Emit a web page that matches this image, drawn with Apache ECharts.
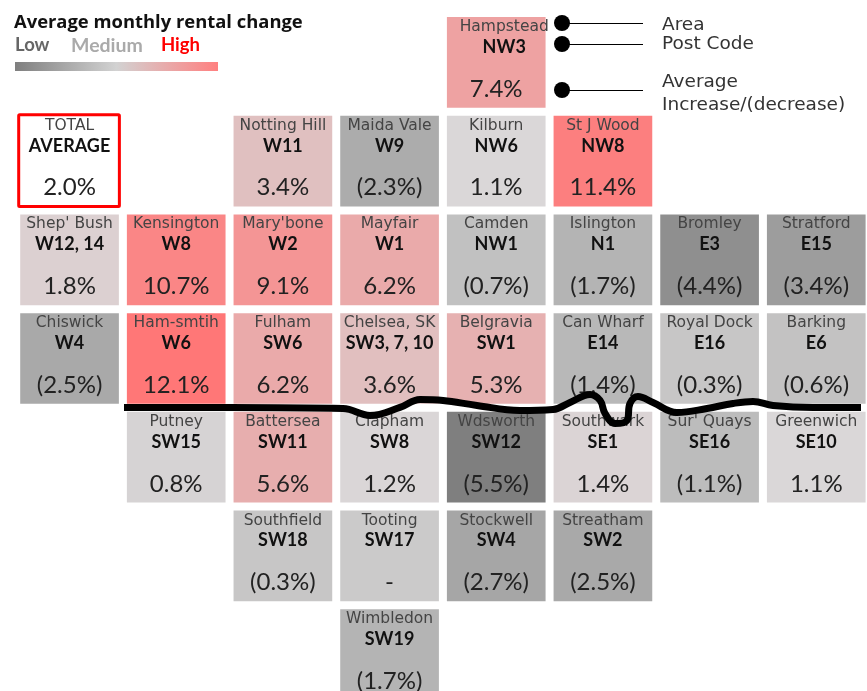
<!DOCTYPE html>
<html>
<head>
<meta charset="utf-8">
<title>Average monthly rental change</title>
<style>
    html, body { margin: 0; padding: 0; background: #fff; overflow: hidden; }
    #chart { width: 867px; height: 691px; }
</style>
<script src="https://cdn.jsdelivr.net/npm/echarts@6/dist/echarts.min.js"></script>
</head>
<body>
<div id="chart"></div>
<script>
// tile map of London postcodes
const areas = ['Hampstead', 'Notting Hill', 'Maida Vale', 'Kilburn', 'St J Wood',
    "Shep' Bush", 'Kensington', "Mary'bone", 'Mayfair', 'Camden', 'Islington', 'Bromley', 'Stratford',
    'Chiswick', 'Ham-smtih', 'Fulham', 'Chelsea, SK', 'Belgravia', 'Can Wharf', 'Royal Dock', 'Barking',
    'Putney', 'Battersea', 'Clapham', 'Wdsworth', 'Southwark', "Sur' Quays", 'Greenwich',
    'Southfield', 'Tooting', 'Stockwell', 'Streatham',
    'Wimbledon'];
const postCodes = ['NW3', 'W11', 'W9', 'NW6', 'NW8',
    'W12, 14', 'W8', 'W2', 'W1', 'NW1', 'N1', 'E3', 'E15',
    'W4', 'W6', 'SW6', 'SW3, 7, 10', 'SW1', 'E14', 'E16', 'E6',
    'SW15', 'SW11', 'SW8', 'SW12', 'SE1', 'SE16', 'SE10',
    'SW18', 'SW17', 'SW4', 'SW2',
    'SW19'];
const changes = [7.4, 3.4, -2.3, 1.1, 11.4,
    1.8, 10.7, 9.1, 6.2, -0.7, -1.7, -4.4, -3.4,
    -2.5, 12.1, 6.2, 3.6, 5.3, -1.4, -0.3, -0.6,
    0.8, 5.6, 1.2, -5.5, 1.4, -1.1, 1.1,
    -0.3, 0, -2.7, -2.5,
    -1.7];
const columns = [4, 2, 3, 4, 5,
    0, 1, 2, 3, 4, 5, 6, 7,
    0, 1, 2, 3, 4, 5, 6, 7,
    1, 2, 3, 4, 5, 6, 7,
    2, 3, 4, 5,
    3];
const rows = [0, 1, 1, 1, 1,
    2, 2, 2, 2, 2, 2, 2, 2,
    3, 3, 3, 3, 3, 3, 3, 3,
    4, 4, 4, 4, 4, 4, 4,
    5, 5, 5, 5,
    6];
const totalChange = 2.0;
const colorStops = ['#7f7f7f', '#9e9e9e', '#bcbcbc', '#dad7d8', '#e0c1c1', '#e7afaf', '#efa0a0', '#f78f8f', '#ff7777'];

// the Thames, in column / row units
const riverX = [0.973, 1.967, 3.026, 3.279, 3.56, 3.748, 3.964, 4.282, 4.685, 4.995, 5.154, 5.342, 5.436, 5.482,
    5.576, 5.688, 5.716, 5.791, 5.932, 6.157, 6.438, 6.682, 6.87, 7.057, 7.432, 7.882];
const riverY = [3.955, 3.955, 3.966, 4.036, 3.955, 3.874, 3.884, 3.935, 3.986, 3.976, 3.905, 3.824, 3.884, 4.016,
    4.118, 4.087, 3.915, 3.844, 3.905, 4.006, 3.966, 3.915, 3.895, 3.935, 3.955, 3.955];

const lato = 'Lato, sans-serif';
const dejavu = '"DejaVu Sans", sans-serif';
const chart = echarts.init(document.getElementById('chart'));

function formatChange(v) {
    if (v === 0) return '-';
    return v < 0 ? '(' + Math.abs(v).toFixed(1) + '%)' : v.toFixed(1) + '%';
}

function renderCell(params, api) {
    const corner = api.coord([api.value(0), api.value(1)]);
    const size = api.size([1, 1]);
    const w = size[0] - 8;
    const h = size[1] - 8;
    const x = corner[0];
    const y = corner[1];
    const isTotal = params.seriesIndex === 1;
    // Hampstead's two name lines sit off centre in the original
    const nameShift = api.value(3) === 'Hampstead' ? 8 : 0;
    const label = (text, dx, dy, font, color) => ({
        type: 'text',
        style: { x: x + w / 2 + dx, y: y + dy, text: text, font: font, fill: color, align: 'center', verticalAlign: 'middle' }
    });
    return {
        type: 'group',
        children: [
            {
                type: 'rect',
                shape: { x: x - (isTotal ? 1.5 : 0), y: y - (isTotal ? 1 : 0), width: w + (isTotal ? 2 : 0), height: h + (isTotal ? 1 : 0), r: isTotal ? 1 : 0 },
                style: isTotal ? { fill: '#fff', stroke: '#ff0000', lineWidth: 3 } : { fill: api.visual('color') }
            },
            label(api.value(3), nameShift, 10, '15.5px ' + dejavu, '#444'),
            label(api.value(4), nameShift, 30, 'bold 18px ' + lato, '#111'),
            label(formatChange(api.value(2)), 0, 72, '24px ' + lato, '#222')
        ]
    };
}

const cellData = areas.map((a, i) => [columns[i], rows[i], changes[i], a, postCodes[i]]);

chart.setOption({
    animation: false,
    title: {
        text: 'Average monthly rental change',
        left: 9,
        top: 9,
        textStyle: { fontFamily: '"Open Sans", sans-serif', fontSize: 18.4, fontWeight: 'bold', color: '#111' }
    },
    grid: { left: 20.2, top: 17, width: 853.4, height: 691, outerBoundsMode: 'none' },
    xAxis: { type: 'value', min: 0, max: 8, show: false },
    yAxis: { type: 'value', min: 0, max: 7, inverse: true, show: false },
    visualMap: {
        show: false,
        seriesIndex: 0,
        dimension: 2,
        min: -5.5,
        max: 12.1,
        inRange: { color: colorStops }
    },
    graphic: [
        { type: 'text', left: 15, top: 36, style: { text: 'Low', font: 'bold 18.5px ' + lato, fill: '#666' } },
        { type: 'text', left: 71, top: 36, style: { text: 'Medium', font: 'bold 19.5px ' + lato, fill: '#aaa' } },
        { type: 'text', left: 161, top: 36, style: { text: 'High', font: 'bold 18.5px ' + lato, fill: '#ff0000' } },
        {
            type: 'rect',
            shape: { x: 15, y: 62, width: 203, height: 9 },
            style: {
                fill: new echarts.graphic.LinearGradient(0, 0, 1, 0, [
                    { offset: 0, color: '#7f7f7f' },
                    { offset: 0.5, color: '#d2d2d2' },
                    { offset: 1, color: '#ff8080' }
                ])
            }
        },
        // key to the tile layout
        { type: 'circle', shape: { cx: 562, cy: 23, r: 8 }, style: { fill: '#000' } },
        { type: 'circle', shape: { cx: 562, cy: 44, r: 8 }, style: { fill: '#000' } },
        { type: 'circle', shape: { cx: 562, cy: 90, r: 8 }, style: { fill: '#000' } },
        { type: 'line', shape: { x1: 562, y1: 23.5, x2: 643, y2: 23.5 }, style: { stroke: '#000', lineWidth: 1 } },
        { type: 'line', shape: { x1: 562, y1: 44.5, x2: 643, y2: 44.5 }, style: { stroke: '#000', lineWidth: 1 } },
        { type: 'line', shape: { x1: 562, y1: 90.5, x2: 643, y2: 90.5 }, style: { stroke: '#000', lineWidth: 1 } },
        { type: 'text', left: 662, top: 16, style: { text: 'Area', font: '18.5px ' + dejavu, fill: '#333' } },
        { type: 'text', left: 662, top: 35, style: { text: 'Post Code', font: '18.5px ' + dejavu, fill: '#333' } },
        { type: 'text', left: 662, top: 73, style: { text: 'Average', font: '18.5px ' + dejavu, fill: '#333' } },
        { type: 'text', left: 662, top: 96, style: { text: 'Increase/(decrease)', font: '18.5px ' + dejavu, fill: '#333' } }
    ],
    series: [
        {
            type: 'custom',
            renderItem: renderCell,
            encode: { x: 0, y: 1 },
            data: cellData,
            z: 2
        },
        {
            type: 'custom',
            renderItem: renderCell,
            encode: { x: 0, y: 1 },
            data: [[0, 1, totalChange, 'TOTAL', 'AVERAGE']],
            z: 2
        },
        {
            type: 'line',
            data: riverX.map((x, i) => [x, riverY[i]]),
            smooth: 0.4,
            symbol: 'none',
            lineStyle: { color: '#000', width: 7 },
            z: 5
        }
    ]
});

window.addEventListener('resize', () => chart.resize());
</script>
</body>
</html>
